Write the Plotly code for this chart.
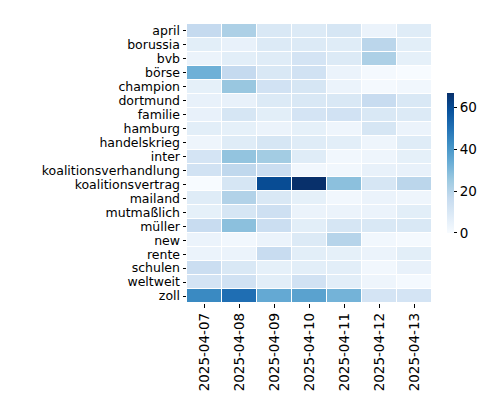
import plotly.graph_objects as go

terms = ["april", "borussia", "bvb", "börse", "champion", "dortmund", "familie",
         "hamburg", "handelskrieg", "inter", "koalitionsverhandlung", "koalitionsvertrag",
         "mailand", "mutmaßlich", "müller", "new", "rente", "schulen", "weltweit", "zoll"]
dates = ["2025-04-07", "2025-04-08", "2025-04-09", "2025-04-10",
         "2025-04-11", "2025-04-12", "2025-04-13"]
counts = [
    [17, 22, 10, 9, 11, 4, 8],
    [7, 5, 9, 9, 8, 19, 7],
    [4, 7, 8, 12, 9, 22, 6],
    [33, 17, 10, 13, 4, 1, 0],
    [6, 26, 13, 11, 4, 1, 2],
    [5, 5, 9, 10, 10, 16, 10],
    [5, 11, 7, 12, 13, 10, 9],
    [7, 6, 4, 6, 3, 11, 4],
    [3, 8, 11, 8, 7, 3, 8],
    [12, 27, 24, 8, 2, 3, 6],
    [13, 18, 15, 2, 2, 5, 5],
    [0, 11, 60, 67, 28, 11, 19],
    [8, 21, 10, 6, 2, 4, 3],
    [6, 11, 14, 4, 4, 4, 7],
    [16, 28, 15, 7, 11, 10, 10],
    [4, 2, 4, 9, 20, 2, 1],
    [4, 4, 16, 7, 6, 4, 7],
    [15, 10, 6, 7, 7, 2, 5],
    [12, 13, 7, 13, 7, 3, 1],
    [44, 51, 35, 37, 32, 12, 12],
]

blues = [[0.0, "#f7fbff"], [0.125, "#deebf7"], [0.25, "#c6dbef"], [0.375, "#9ecae1"],
         [0.5, "#6baed6"], [0.625, "#4292c6"], [0.75, "#2171b5"], [0.875, "#08519c"],
         [1.0, "#08306b"]]

fig = go.Figure(go.Heatmap(
    z=counts, x=dates, y=terms, colorscale=blues, zmin=0, zmax=67,
    xgap=1, ygap=1,
    colorbar=dict(
        x=1.06, xanchor="left", xpad=0, ypad=0, y=0.502, yanchor="middle",
        len=0.502, lenmode="fraction", thickness=7, outlinewidth=0,
        tickvals=[0, 20, 40, 60], ticks="outside", ticklen=3.5, tickwidth=0.8,
        tickcolor="black", tickfont=dict(size=13.5, color="black"),
    ),
))

fig.update_layout(
    width=500, height=400,
    margin=dict(l=179, r=76, t=16, b=105),
    paper_bgcolor="white", plot_bgcolor="white",
    font=dict(family="DejaVu Sans", size=13.5, color="black"),
    xaxis=dict(tickangle=-90, ticks="outside", ticklen=3.5, tickwidth=0.8,
               tickcolor="black", showgrid=False, zeroline=False, type="category",
               tickmode="array", tickvals=dates, ticktext=dates),
    yaxis=dict(autorange="reversed", ticks="outside", ticklen=3.5, tickwidth=0.8,
               tickcolor="black", showgrid=False, zeroline=False, type="category",
               tickmode="array", tickvals=terms, ticktext=terms,
               tickfont=dict(size=12.5)),
)

fig.write_html("out.html")
